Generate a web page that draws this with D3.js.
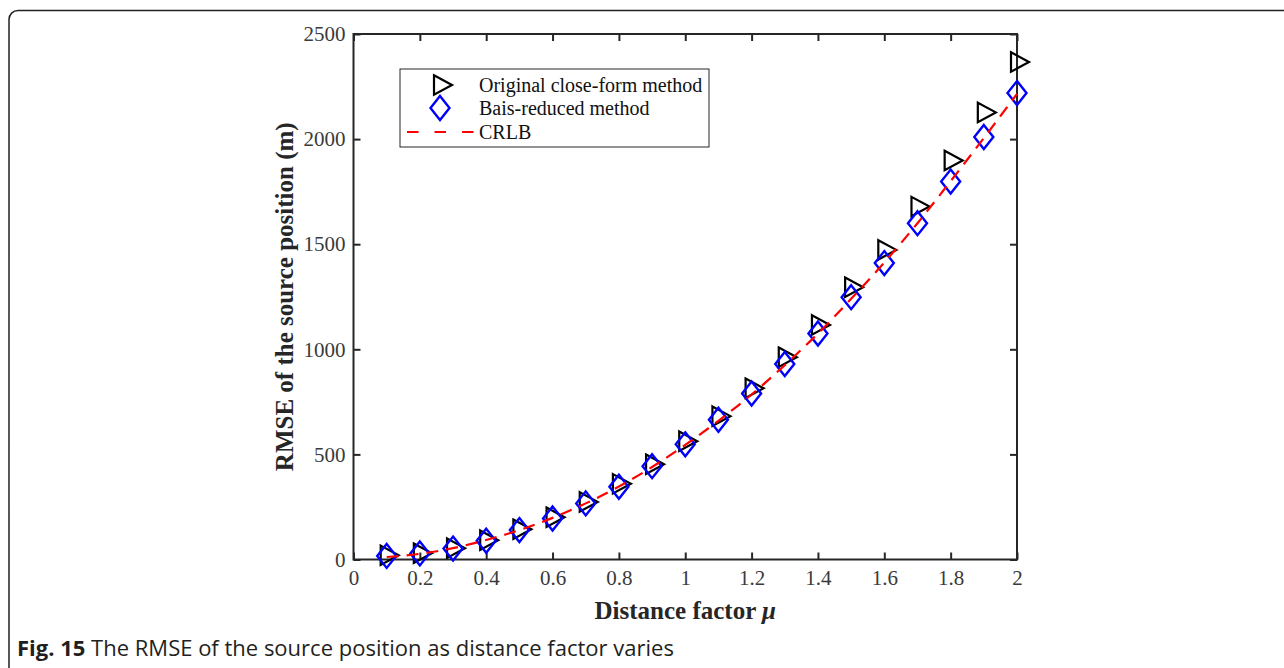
<!DOCTYPE html>
<html>
<head>
<meta charset="utf-8">
<script src="https://cdn.jsdelivr.net/npm/d3@7"></script>
<style>
  html, body { margin: 0; padding: 0; background: #fff; }
  svg { display: block; }
</style>
</head>
<body>
<svg id="fig" width="1284" height="668"></svg>
<script>
// Distance factor values and RMSE (m) of each estimator
const mu = [0.1, 0.2, 0.3, 0.4, 0.5, 0.6, 0.7, 0.8, 0.9, 1.0,
            1.1, 1.2, 1.3, 1.4, 1.5, 1.6, 1.7, 1.8, 1.9, 2.0];
const originalRmse = [20, 30, 54, 92, 144, 201, 274, 360, 453, 563,
                      682, 815, 962, 1116, 1295, 1473, 1679, 1898, 2127, 2367];
const biasReducedRmse = [17, 29, 52, 89, 140, 195, 267, 346, 444, 548,
                         665, 790, 930, 1075, 1248, 1410, 1600, 1798, 2010, 2219];
const crlb = [12, 27, 54, 93, 140, 198, 267, 347, 440, 545,
              660, 785, 925, 1075, 1240, 1413, 1600, 1800, 2005, 2215];

const xTicks = [0, 0.2, 0.4, 0.6, 0.8, 1, 1.2, 1.4, 1.6, 1.8, 2];
const yTicks = [0, 500, 1000, 1500, 2000, 2500];
const legendLabels = ["Original close-form method", "Bais-reduced method", "CRLB"];

const svg = d3.select("#fig");
const serif = "'Liberation Serif', 'Times New Roman', serif";
const axisColor = "#262626";

// Outer figure frame
svg.append("rect")
  .attr("x", 9).attr("y", 10.5)
  .attr("width", 1400).attr("height", 720)
  .attr("rx", 9).attr("ry", 9)
  .attr("fill", "none").attr("stroke", "#222").attr("stroke-width", 1.5);

const plot = { left: 353.5, right: 1017, top: 34, bottom: 559.5 };
const x = d3.scaleLinear().domain([0, 2]).range([plot.left, plot.right]);
const y = d3.scaleLinear().domain([0, 2500]).range([plot.bottom, plot.top]);

const tickLen = 7;
const g = svg.append("g");

// Axes with inward ticks on all four sides
const axisStyle = sel => {
  sel.select(".domain").remove();
  sel.selectAll(".tick line").attr("stroke", axisColor).attr("stroke-width", 2);
};
const tickText = sel => sel.selectAll(".tick text").attr("font-family", serif)
  .attr("font-size", 21).attr("fill", "#3a3a3a");

g.append("g").attr("transform", `translate(0,${plot.bottom})`)
  .call(d3.axisBottom(x).tickValues(xTicks).tickSize(-tickLen).tickPadding(11)
    .tickFormat(d3.format("")))
  .call(axisStyle)
  .call(tickText);
g.append("g").attr("transform", `translate(0,${plot.top})`)
  .call(d3.axisTop(x).tickValues(xTicks).tickSize(-tickLen).tickFormat(""))
  .call(axisStyle);
g.append("g").attr("transform", `translate(${plot.left},0)`)
  .call(d3.axisLeft(y).tickValues(yTicks).tickSize(-tickLen).tickPadding(8)
    .tickFormat(d3.format("d")))
  .call(axisStyle)
  .call(tickText);
g.append("g").attr("transform", `translate(${plot.right},0)`)
  .call(d3.axisRight(y).tickValues(yTicks).tickSize(-tickLen).tickFormat(""))
  .call(axisStyle);

// Axes box
g.append("rect")
  .attr("x", plot.left).attr("y", plot.top)
  .attr("width", plot.right - plot.left).attr("height", plot.bottom - plot.top)
  .attr("fill", "none").attr("stroke", axisColor).attr("stroke-width", 2);

// Marker shapes
const triPath = (cx, cy) => `M${cx - 6},${cy - 9.7}L${cx + 12},${cy}L${cx - 6},${cy + 9.7}Z`;
const diaPath = (cx, cy) => `M${cx},${cy - 12}L${cx + 9.5},${cy}L${cx},${cy + 12}L${cx - 9.5},${cy}Z`;

// Original close-form method
g.append("g").selectAll("path").data(mu).join("path")
  .attr("d", (d, i) => triPath(x(d), y(originalRmse[i])))
  .attr("fill", "none").attr("stroke", "#000").attr("stroke-width", 2.2);

// Bias-reduced method
g.append("g").selectAll("path").data(mu).join("path")
  .attr("d", (d, i) => diaPath(x(d), y(biasReducedRmse[i])))
  .attr("fill", "none").attr("stroke", "#0000ff").attr("stroke-width", 2.4);

// CRLB dashed curve
const line = d3.line().x(d => x(d[0])).y(d => y(d[1])).curve(d3.curveMonotoneX);
g.append("path")
  .datum(mu.map((m, i) => [m, crlb[i]]))
  .attr("d", line)
  .attr("fill", "none").attr("stroke", "#ff0000").attr("stroke-width", 2.2)
  .attr("stroke-dasharray", "12,8");

// Legend
const lg = svg.append("g");
lg.append("rect").attr("x", 400).attr("y", 69).attr("width", 309).attr("height", 78)
  .attr("fill", "#fff").attr("stroke", axisColor).attr("stroke-width", 1);
const rowY = [85, 108, 132];
lg.append("path").attr("d", triPath(440, rowY[0]))
  .attr("fill", "none").attr("stroke", "#000").attr("stroke-width", 2.2);
lg.append("path").attr("d", diaPath(440, rowY[1]))
  .attr("fill", "none").attr("stroke", "#0000ff").attr("stroke-width", 2.4);
lg.append("line").attr("x1", 407).attr("x2", 474).attr("y1", rowY[2]).attr("y2", rowY[2])
  .attr("stroke", "#ff0000").attr("stroke-width", 2.2).attr("stroke-dasharray", "11.5,16");
lg.selectAll("text.leg").data(legendLabels).join("text")
  .attr("class", "leg")
  .attr("x", 479).attr("y", (d, i) => rowY[i])
  .attr("dy", "0.35em")
  .attr("font-family", serif).attr("font-size", 20).attr("fill", "#111")
  .text(d => d);

// Axis titles
const xl = svg.append("text")
  .attr("x", (plot.left + plot.right) / 2).attr("y", 619)
  .attr("text-anchor", "middle")
  .attr("font-family", serif).attr("font-size", 25).attr("font-weight", "bold")
  .attr("fill", "#262626");
xl.append("tspan").text("Distance factor ");
xl.append("tspan").attr("font-style", "italic").text("\u03bc");

svg.append("text")
  .attr("transform", `translate(293,${(plot.top + plot.bottom) / 2}) rotate(-90)`)
  .attr("text-anchor", "middle")
  .attr("font-family", serif).attr("font-size", 25).attr("font-weight", "bold")
  .attr("fill", "#262626")
  .text("RMSE of the source position (m)");

// Caption
const cap = svg.append("text")
  .attr("x", 17).attr("y", 656)
  .attr("font-family", "'Open Sans', 'Noto Sans', sans-serif").attr("font-size", 22)
  .attr("fill", "#231f20");
cap.append("tspan").attr("font-weight", "bold").text("Fig. 15");
cap.append("tspan").text(" The RMSE of the source position as distance factor varies");
</script>
</body>
</html>
